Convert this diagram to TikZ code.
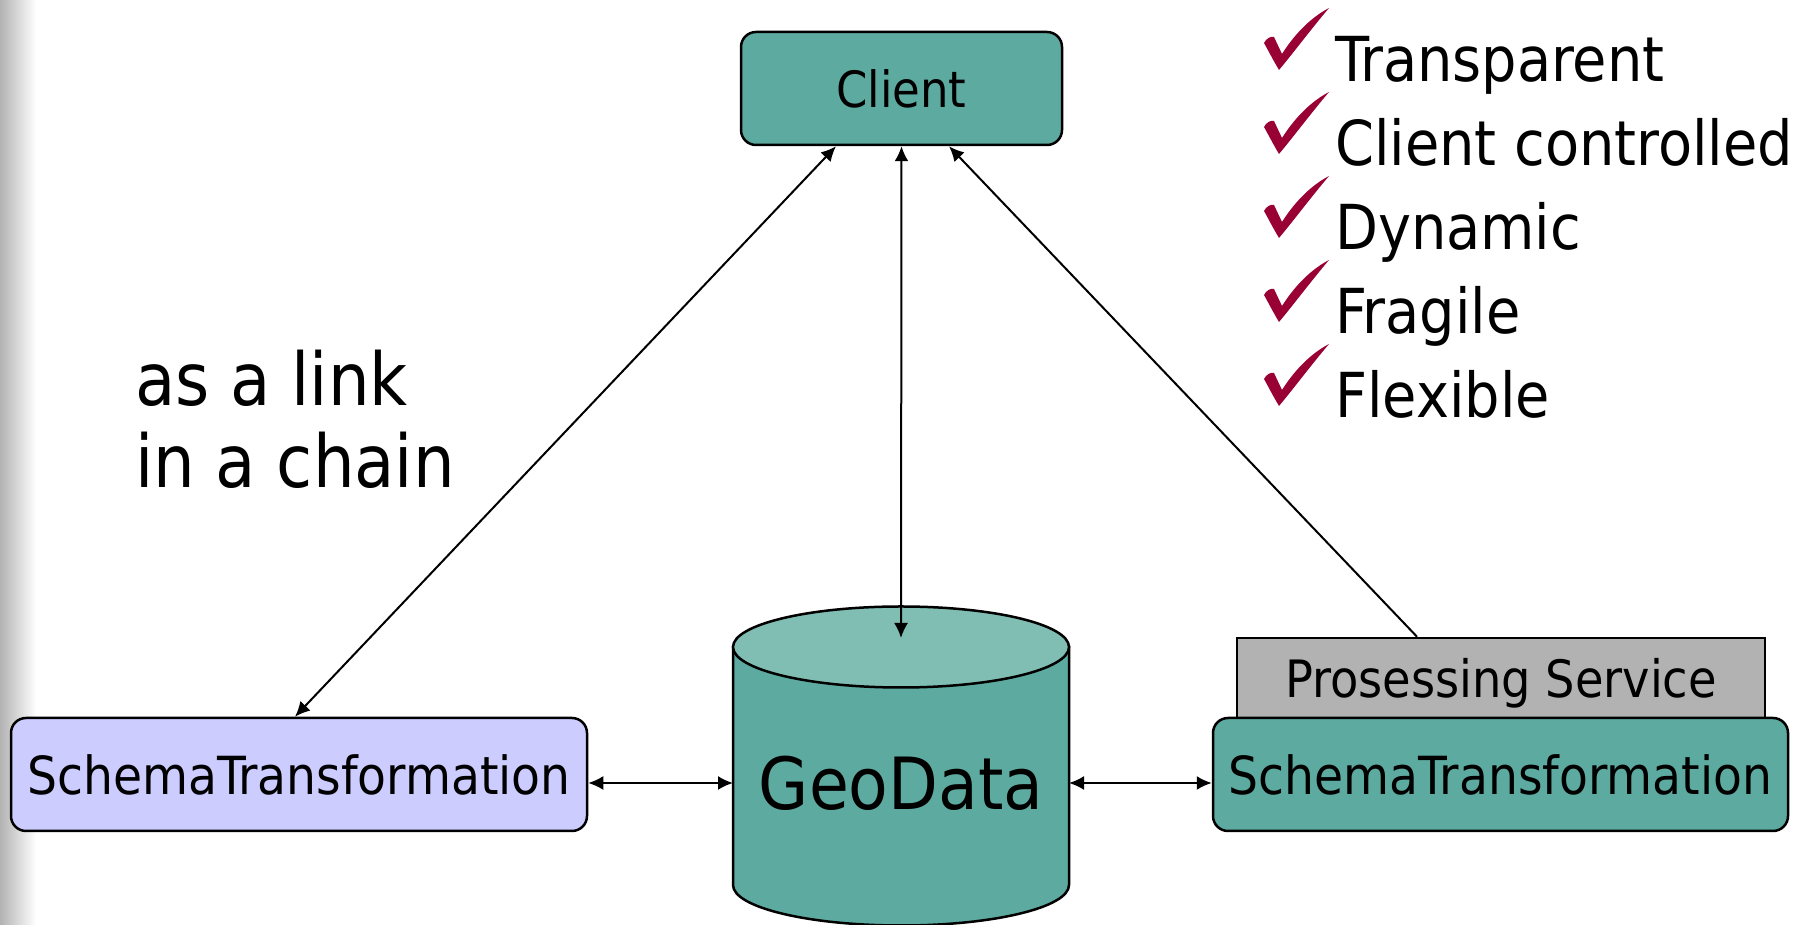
\documentclass[tikz,border=0pt]{standalone}
\usepackage{fontspec}
\setmainfont{DejaVu Sans Condensed}
\usetikzlibrary{arrows.meta,calc}
\definecolor{geoteal}{RGB}{93,170,160}
\definecolor{geotop}{RGB}{128,190,180}
\definecolor{stlilac}{RGB}{204,204,255}
\definecolor{psgray}{RGB}{178,178,178}
\definecolor{tickred}{RGB}{153,0,51}
\tikzset{box/.style={draw,line width=2.5pt,rounded corners=15pt,minimum height=113pt,inner sep=0pt,font=\fontsize{52.5}{63}\selectfont}}
\tikzset{link/.style={line width=2pt}}
\tikzset{label/.style={anchor=base west,inner sep=0pt}}

\begin{document}
\begin{tikzpicture}[x=1pt,y=1pt,>={Latex[length=15pt,width=14pt]}]
  \useasboundingbox (0,0) rectangle (1804,925);
  \shade[left color=gray!60,right color=white] (0,0) rectangle (36,925);
  \node[box,fill=geoteal,minimum width=321pt,font=\fontsize{50}{60}\selectfont] (client) at (901.5,836.5) {Client};
  \node[box,fill=stlilac,minimum width=576pt] (stleft) at (299,150.5) {SchemaTransformation};
  \node[draw,line width=2.5pt,fill=psgray,minimum width=528pt,minimum height=80pt,inner sep=0pt,text depth=0pt,font=\fontsize{51.5}{62}\selectfont] (ps) at (1501,247) {Prosessing Service};
  \node[box,fill=geoteal,minimum width=575pt] (stright) at (1500.5,150.5) {SchemaTransformation};
  % the data store
  \draw[line width=2.5pt,fill=geoteal] (733,278) -- (733,40) arc[start angle=180,end angle=360,x radius=168,y radius=40.5] -- (1069,278) -- cycle;
  \draw[line width=2.5pt,fill=geotop] (901,278) ellipse[x radius=168,y radius=40.5];
  \node[anchor=base,inner sep=0pt,font=\fontsize{72}{86}\selectfont] (geo) at (901,115) {GeoData};
  \coordinate (geotop) at (901,287);
  \coordinate (geoleft) at (733,142);
  \coordinate (georight) at (1069,142);
  \draw[link,<->] ([xshift=-65.5pt]client.south) -- ([xshift=-4pt]stleft.north);
  \draw[link,<->] (client.south) -- (geotop);
  \draw[link,<-] ([xshift=47.5pt]client.south) -- ([xshift=-84pt]ps.north);
  \draw[link,<->] ([yshift=-8.5pt]stleft.east) -- (geoleft);
  \draw[link,<->] (georight) -- ([yshift=-8.5pt]stright.west);
  \node[label,font=\fontsize{73}{88}\selectfont] (aslink) at (135,519) {as a link};
  \node[label,font=\fontsize{73}{88}\selectfont] (inchain) at (135,437) {in a chain};
  \foreach \prop [count=\i] in {Transparent,Client controlled,Dynamic,Fragile,Flexible} {
    \node[label,font=\fontsize{62}{74}\selectfont] (prop\i) at (1335,927-84*\i) {\prop};
    \fill[tickred,shift={(1264,927-84*\i)}] (0,39) .. controls (2,43) and (6,46) .. (10,45) -- (18,28)
      .. controls (30,47) and (46,64) .. (65,74) .. controls (48,54) and (30,30) .. (15,12)
      .. controls (9,22) and (4,32) .. cycle;
  }
\end{tikzpicture}
\end{document}
